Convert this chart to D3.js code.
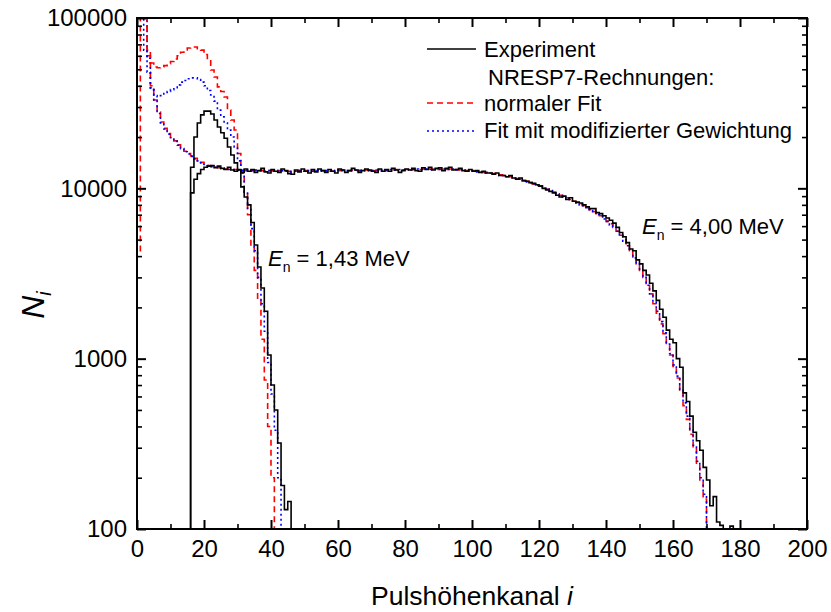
<!DOCTYPE html>
<html>
<head>
<meta charset="utf-8">
<script src="https://cdn.jsdelivr.net/npm/d3@7"></script>
<style>
  body { margin: 0; background: #fff; }
  svg text { font-family: Arial, "Liberation Sans", Helvetica, sans-serif; fill: #000; }
</style>
</head>
<body>
<svg id="chart" width="831" height="612"></svg>
<script>
// Pulse-height spectra (counts per channel) – first channel of each series plus per-channel counts
const expLowStart = 16;   // experiment, En = 1,43 MeV
const expLow = [13300, 20000, 24200, 27000, 28400, 28400, 27300, 25200, 22900, 21200,
                19700, 17500, 15700, 14100, 12800, 10200, 8900, 8000, 6300, 4650,
                3450, 2600, 1900, 1050, 700, 500, 320, 180, 130, 145];

const expHighStart = 16;  // experiment, En = 4,00 MeV
const expHigh = [
  9400, 11300, 12200, 12900,                                                  // 16-19
  13300, 13500, 13600, 13200, 13500, 13100, 12900, 13300, 12800, 12600,       // 20-29
  12900, 12400, 13000, 12600, 12900, 12400, 12700, 13100, 12500, 12300,       // 30-39
  12900, 12600, 12400, 13000, 12700, 12200, 12100, 12800, 12500, 13000,       // 40-49
  12600, 12300, 12900, 12500, 13000, 12700, 12400, 12900, 12600, 12300,       // 50-59
  13000, 12800, 12400, 12700, 13100, 12800, 12400, 12700, 13000, 12800,       // 60-69
  12600, 12400, 13000, 12600, 12900, 12600, 13100, 12800, 12400, 12700,       // 70-79
  13000, 12800, 13100, 12700, 12600, 13200, 12900, 13300, 12800, 13100,       // 80-89
  13200, 12700, 13100, 13300, 12800, 12900, 13100, 12700, 12600, 12900,       // 90-99
  12600, 12700, 12400, 12600, 12300, 12300, 12100, 12300, 11900, 11900,       // 100-109
  11700, 11900, 11500, 11300, 11500, 11100, 11000, 10800, 10700, 10500,       // 110-119
  10300, 10000, 9800, 9600, 9400, 9100, 8900, 9000, 8600, 8800,               // 120-129
  8400, 8300, 8200, 8000, 7800, 7600, 7600, 7200, 7100, 6900,                 // 130-139
  6700, 6500, 6250, 5900, 5500, 5200, 4800, 4400, 4300, 3800,                 // 140-149
  3600, 3300, 3100, 2770, 2500, 2200, 1950, 1750, 1470, 1300,                 // 150-159
  1240, 1000, 890, 630, 560, 460, 370, 330, 290, 230,                         // 160-169
  194, 137, 155, 110, 105, 0, 0, 104, 0                                       // 170-178
];

const fitLowStart = 0;    // NRESP7, normaler Fit, En = 1,43 MeV
const fitLow = [4200, 200000, 200000, 64800, 54400, 51600, 51000, 51600, 52500, 54000,
                55500, 57500, 60000, 63000, 65000, 66700, 67600, 67600, 66000, 64800,
                61000, 57000, 49500, 45000, 39400, 37000, 34400, 28800, 25200, 22000,
                16000, 12300, 9500, 7000, 4500, 3300, 2200, 1300, 750, 400,
                200];

const modLowStart = 0;    // NRESP7, modifizierte Gewichtung, En = 1,43 MeV
const modLow = [200000, 200000, 64800, 48000, 38000, 35000, 34500, 35000, 36000, 37000,
                38000, 39000, 40500, 42000, 43000, 44000, 44500, 44500, 43500, 42000,
                40000, 37500, 35300, 32500, 28800, 26300, 24200, 22000, 20000, 17500,
                14500, 12300, 9500, 7500, 5800, 4300, 3000, 2100, 1450, 950,
                620, 380, 200];

const fitHighStart = 0;   // NRESP7, normaler Fit, En = 4,00 MeV
const fitHigh = [
  200000, 200000, 200000, 60000, 40000, 33000, 28000, 24500, 22500, 21000,
  20000, 19000, 18000, 17200, 16500, 16000, 15500, 15000, 14600, 14200,
  13900, 13600, 13400, 13300, 13200, 13100, 13000, 13000, 12900, 12900,
  12800, 12800, 12700, 12800, 12700, 12700, 12800, 12700, 12600, 12700,
  12700, 12600, 12700, 12700, 12600, 12600, 12500, 12600, 12700, 12600,
  12700, 12600, 12700, 12600, 12700, 12700, 12600, 12700, 12600, 12700,
  12700, 12800, 12700, 12700, 12800, 12700, 12700, 12800, 12800, 12700,
  12800, 12700, 12800, 12800, 12700, 12800, 12800, 12900, 12800, 12800,
  12900, 12800, 12900, 12900, 12900, 13000, 12900, 13000, 13000, 12900,
  13000, 12900, 12900, 13000, 12900, 12900, 12800, 12800, 12700, 12700,
  12600, 12600, 12500, 12400, 12400, 12300, 12200, 12100, 12000, 11900,
  11800, 11700, 11500, 11400, 11300, 11100, 11000, 10800, 10600, 10500,
  10300, 10100, 9900, 9700, 9500, 9300, 9100, 8900, 8800, 8600,
  8400, 8200, 8100, 7900, 7700, 7500, 7300, 7100, 6900, 6700,
  6400, 6200, 5900, 5600, 5300, 5000, 4600, 4300, 3900, 3600,
  3300, 3000, 2700, 2400, 2100, 1850, 1600, 1400, 1200, 1050,
  900, 770, 640, 530, 440, 360, 300, 240, 190, 150
];

const modHighStart = 0;   // NRESP7, modifizierte Gewichtung, En = 4,00 MeV
const modHigh = [
  200000, 200000, 200000, 58000, 39000, 32500, 27500, 24200, 22300, 20800,
  19800, 18900, 17900, 17100, 16400, 15900, 15400, 14900, 14500, 14100,
  13800, 13600, 13400, 13300, 13200, 13100, 13000, 12900, 12900, 12800,
  12800, 12700, 12800, 12700, 12700, 12800, 12700, 12700, 12600, 12700,
  12600, 12700, 12600, 12700, 12600, 12500, 12600, 12600, 12700, 12600,
  12600, 12700, 12600, 12700, 12600, 12700, 12700, 12600, 12700, 12600,
  12800, 12700, 12700, 12800, 12700, 12800, 12700, 12800, 12700, 12800,
  12700, 12800, 12800, 12700, 12800, 12900, 12800, 12800, 12900, 12800,
  12800, 12900, 12900, 13000, 12900, 12900, 13000, 12900, 13000, 13000,
  12900, 13000, 12900, 12900, 13000, 12800, 12900, 12700, 12800, 12600,
  12700, 12500, 12500, 12400, 12300, 12300, 12100, 12100, 11900, 11900,
  11700, 11700, 11500, 11300, 11300, 11100, 10900, 10800, 10600, 10400,
  10300, 10000, 9900, 9700, 9400, 9300, 9100, 8900, 8700, 8600,
  8400, 8200, 8000, 7900, 7700, 7500, 7300, 7000, 6900, 6600,
  6400, 6100, 5900, 5600, 5300, 4900, 4600, 4300, 3900, 3600,
  3300, 3000, 2700, 2400, 2150, 1900, 1650, 1420, 1220, 1070,
  920, 790, 660, 550, 460, 380, 310, 250, 200, 160
];

// Axis ticks and labels
const xMajor = [0, 20, 40, 60, 80, 100, 120, 140, 160, 180, 200];
const xMinor = [10, 30, 50, 70, 90, 110, 130, 150, 170, 190];
const yMajor = [100, 1000, 10000, 100000];
const yMinor = [200, 300, 400, 500, 600, 700, 800, 900,
                2000, 3000, 4000, 5000, 6000, 7000, 8000, 9000,
                20000, 30000, 40000, 50000, 60000, 70000, 80000, 90000];
const legendItems = ["Experiment", "NRESP7-Rechnungen:", "normaler Fit", "Fit mit modifizierter Gewichtung"];

const svg = d3.select("#chart");
const L = 137, R = 807, T = 18, B = 529;
const x = d3.scaleLinear().domain([0, 200]).range([L, R]);
const y = d3.scaleLog().domain([100, 100000]).range([B, T]);
const FLOOR = 30; // empty channels fall below the axis and are clipped

svg.append("defs").append("clipPath").attr("id", "plotClip")
  .append("rect").attr("x", L).attr("y", T).attr("width", R - L).attr("height", B - T);

// histogram outline: vertical edges at channel boundaries
function stepPoints(start, vals) {
  const pts = [[start, FLOOR]];
  vals.forEach((v, i) => pts.push([start + i, v > 0 ? v : FLOOR]));
  pts.push([start + vals.length, FLOOR]);
  return pts;
}
const stepLine = d3.line()
  .x(d => x(d[0]))
  .y(d => y(d[1]))
  .curve(d3.curveStepAfter);

const plot = svg.append("g").attr("clip-path", "url(#plotClip)");

const series = [
  { start: fitHighStart, vals: fitHigh, color: "#ff0000", dash: "6,4" },
  { start: modHighStart, vals: modHigh, color: "#0000ff", dash: "2,3" },
  { start: fitLowStart,  vals: fitLow,  color: "#ff0000", dash: "6,4" },
  { start: modLowStart,  vals: modLow,  color: "#0000ff", dash: "2,3" },
  { start: expHighStart, vals: expHigh, color: "#000000", dash: null },
  { start: expLowStart,  vals: expLow,  color: "#000000", dash: null }
];
series.forEach(s => {
  plot.append("path")
    .attr("d", stepLine(stepPoints(s.start, s.vals)))
    .attr("fill", "none")
    .attr("stroke", s.color)
    .attr("stroke-width", 1.6)
    .attr("stroke-dasharray", s.dash);
});

// axes with inward ticks on all four sides
function styleAxis(g, w) {
  g.select(".domain").remove();
  g.selectAll(".tick line").attr("stroke", "#000").attr("stroke-width", w);
}
const fontSize = 24;
svg.append("g").attr("transform", `translate(0,${B})`)
  .call(d3.axisBottom(x).tickValues(xMajor).tickSize(-9).tickPadding(11).tickFormat(d3.format("d")))
  .call(g => { styleAxis(g, 2); g.selectAll("text").attr("font-size", fontSize).attr("font-family", null); });
svg.append("g").attr("transform", `translate(0,${B})`)
  .call(d3.axisBottom(x).tickValues(xMinor).tickSize(-5).tickFormat(""))
  .call(g => styleAxis(g, 1.6));
svg.append("g").attr("transform", `translate(0,${T})`)
  .call(d3.axisTop(x).tickValues(xMajor).tickSize(-9).tickFormat(""))
  .call(g => styleAxis(g, 2));
svg.append("g").attr("transform", `translate(0,${T})`)
  .call(d3.axisTop(x).tickValues(xMinor).tickSize(-5).tickFormat(""))
  .call(g => styleAxis(g, 1.6));

svg.append("g").attr("transform", `translate(${L},0)`)
  .call(d3.axisLeft(y).tickValues(yMajor).tickSize(-9).tickPadding(10).tickFormat(d3.format("d")))
  .call(g => { styleAxis(g, 2); g.selectAll("text").attr("font-size", fontSize).attr("font-family", null); });
svg.append("g").attr("transform", `translate(${L},0)`)
  .call(d3.axisLeft(y).tickValues(yMinor).tickSize(-5).tickFormat(""))
  .call(g => styleAxis(g, 1.6));
svg.append("g").attr("transform", `translate(${R},0)`)
  .call(d3.axisRight(y).tickValues(yMajor).tickSize(-9).tickFormat(""))
  .call(g => styleAxis(g, 2));
svg.append("g").attr("transform", `translate(${R},0)`)
  .call(d3.axisRight(y).tickValues(yMinor).tickSize(-5).tickFormat(""))
  .call(g => styleAxis(g, 1.6));

// frame
svg.append("rect").attr("x", L).attr("y", T).attr("width", R - L).attr("height", B - T)
  .attr("fill", "none").attr("stroke", "#000").attr("stroke-width", 2);

// axis titles
const xt = svg.append("text").attr("x", (L + R) / 2).attr("y", 605)
  .attr("text-anchor", "middle").attr("font-size", 26.5);
xt.append("tspan").text("Pulshöhenkanal ");
xt.append("tspan").attr("font-style", "italic").text("i");

const yt = svg.append("text").attr("transform", "translate(44,305) rotate(-90)")
  .attr("text-anchor", "middle").attr("font-size", 32);
yt.append("tspan").attr("font-style", "italic").text("N");
yt.append("tspan").attr("font-style", "italic").attr("font-size", 20).attr("dy", 7).text("i");

// energy annotations
function energyLabel(px, py, value) {
  const t = svg.append("text").attr("x", px).attr("y", py).attr("font-size", 22);
  t.append("tspan").attr("font-style", "italic").text("E");
  t.append("tspan").attr("font-size", 14).attr("dy", 6).text("n");
  t.append("tspan").attr("dy", -6).text(" = " + value + " MeV");
}
energyLabel(268, 266, "1,43");
energyLabel(642, 234, "4,00");

// legend
const lg = svg.append("g");
const legendRows = [
  { label: legendItems[0], ty: 57, ly: 49, color: "#000", dash: null, tx: 484 },
  { label: legendItems[1], ty: 85, ly: null, tx: 488 },
  { label: legendItems[2], ty: 111, ly: 103, color: "#ff0000", dash: "6,4", tx: 484 },
  { label: legendItems[3], ty: 138, ly: 131, color: "#0000ff", dash: "2,3", tx: 484 }
];
legendRows.forEach(r => {
  if (r.ly !== null) {
    lg.append("line").attr("x1", 427).attr("x2", 476).attr("y1", r.ly).attr("y2", r.ly)
      .attr("stroke", r.color).attr("stroke-width", 1.6).attr("stroke-dasharray", r.dash);
  }
  lg.append("text").attr("x", r.tx).attr("y", r.ty).attr("font-size", 22).text(r.label);
});
</script>
</body>
</html>
